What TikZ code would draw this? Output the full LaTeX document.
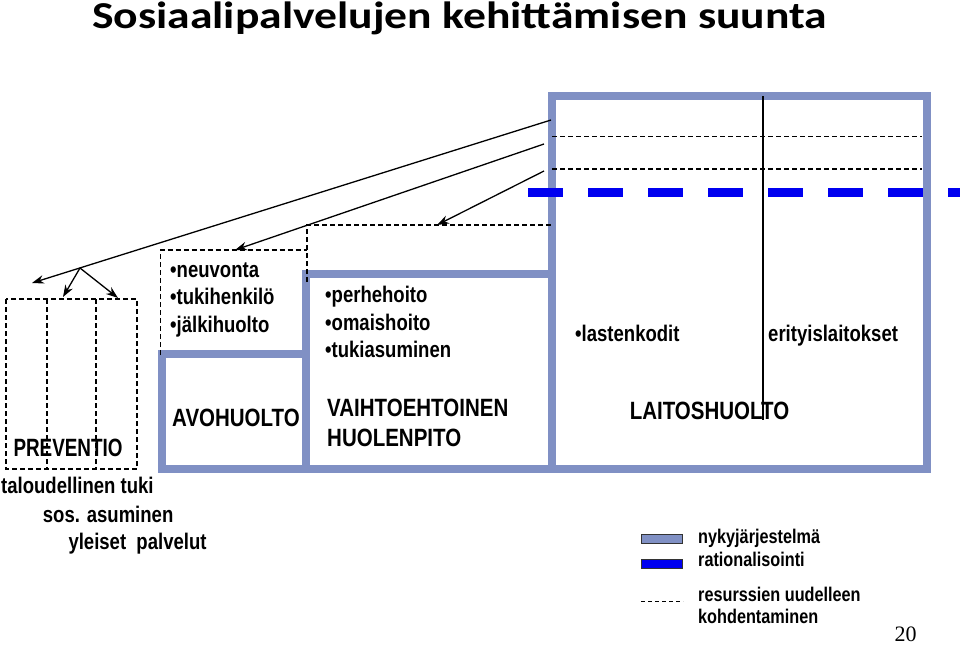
\documentclass[tikz,border=0pt]{standalone}
\usepackage{fontspec}
\usepackage{graphicx}
\setmainfont{Liberation Sans}[FakeStretch=0.82]
\newfontfamily\titlefont{Carlito}[FakeStretch=1.2]
\newfontfamily\numfont{Liberation Serif}
\usetikzlibrary{arrows.meta}
\definecolor{slate}{RGB}{128,144,196}
\definecolor{rblue}{RGB}{0,0,240}

\begin{document}
\begin{tikzpicture}[x=1pt,y=-1pt,>={Stealth[length=12pt,width=8.5pt]},
	slatebox/.style={draw=slate,line width=8pt},
	realloc/.style={draw,dash pattern=on 5pt off 3pt,line width=1.2pt},
	ratline/.style={draw=rblue,line width=8.5pt,dash pattern=on 35pt off 25pt},
	lbl/.style={font=\bfseries\fontsize{25}{30}\selectfont,inner sep=0pt,align=left},
	txt/.style={font=\bfseries\fontsize{22.6}{27.3}\selectfont,inner sep=0pt,align=left},
	legtext/.style={font=\bfseries\fontsize{19.8}{21.6}\selectfont,inner sep=0pt,align=left},
	swatch/.style={draw=black!80,line width=1pt,minimum width=41pt,minimum height=9pt,inner sep=0pt}
	]
	\useasboundingbox (0,0) rectangle (960,645);

	\node[font=\titlefont\bfseries\fontsize{38}{40}\selectfont,anchor=base west,inner sep=0pt] (title) at (92,28.3) {Sosiaalipalvelujen kehittämisen suunta};

	% staircase of the present system
	\draw[slatebox] (161.5,353.5) rectangle (306,469);
	\draw[slatebox] (306,273.5) rectangle (552,469);
	\draw[slatebox] (552,96) rectangle (926.5,469);

	% reallocation
	\draw[realloc] (6,299) rectangle (137,469);
	\draw[realloc] (47,299) -- (47,469);
	\draw[realloc] (96,299) -- (96,469);
	\draw[realloc] (160.7,355) -- (160.7,250) -- (307,250);
	\draw[realloc] (307,282) -- (307,225) -- (552,225);
	\draw[realloc] (552,136.7) -- (922,136.7);
	\draw[realloc] (552,169) -- (922,169);

	\draw[ratline] (528,192.7) -- (960,192.7);
	\draw[line width=1.3pt] (763,96) -- (763,420);

	\coordinate (s1) at (551,120);
	\coordinate (s2) at (544,144);
	\coordinate (s3) at (544,171);
	\coordinate (fork) at (80,268);
	\coordinate (t1) at (32,283);
	\coordinate (t2) at (63,297);
	\coordinate (t3) at (118,298);
	\coordinate (t4) at (235,250);
	\coordinate (t5) at (437,225);

	\draw[->,line width=1.3pt] (s1) -- (t1);
	\draw[->,line width=1.3pt] (fork) -- (t2);
	\draw[->,line width=1.3pt] (fork) -- (t3);
	\draw[->,line width=1.3pt] (s2) -- (t4);
	\draw[->,line width=1.3pt] (s3) -- (t5);

	\node[lbl,anchor=base] (prev) at (68,456.7) {\scalebox{0.92}[1]{PREVENTIO}};
	\node[lbl,anchor=base] (avo) at (236,426.7) {AVOHUOLTO};
	\node[lbl,anchor=base west] (vaiht) at (327,446.7) {VAIHTOEHTOINEN\\HUOLENPITO};
	\node[lbl,anchor=base] (laitos) at (709.5,419.3) {LAITOSHUOLTO};

	\node[txt,anchor=base west] (avolist) at (170,332) {\textbullet neuvonta\\\textbullet tukihenkilö\\\textbullet jälkihuolto};
	\node[txt,anchor=base west] (vaihtlist) at (325,357.3) {\textbullet perhehoito\\\textbullet omaishoito\\\textbullet tukiasuminen};
	\node[txt,anchor=base west] (lasten) at (575,341) {\textbullet lastenkodit};
	\node[txt,anchor=base west] (erit) at (768,341) {erityislaitokset};

	\node[txt,anchor=base west] (talous) at (1,493.3) {taloudellinen tuki};
	\node[txt,anchor=base west] (sosas) at (42.7,522.3) {sos. asuminen};
	\node[txt,anchor=base west] (yleis) at (68.3,549.3) {yleiset~~palvelut};

	% legend
	\node[swatch,fill=slate] (sw1) at (661.5,538.5) {};
	\node[swatch,fill=rblue] (sw2) at (661.5,563.5) {};
	\coordinate (d1) at (641,601);
	\coordinate (d2) at (683,601);
	\draw[dash pattern=on 4pt off 3pt,line width=0.9pt] (d1) -- (d2);
	\node[legtext,anchor=base west] (nyky) at (698,543) {nykyjärjestelmä};
	\node[legtext,anchor=base west] (rat) at (698,566.7) {rationalisointi};
	\node[legtext,anchor=base west] (res) at (698,623.3) {resurssien uudelleen\\kohdentaminen};

	\node[font=\numfont\fontsize{22}{22}\selectfont,anchor=base,inner sep=0pt] (page) at (905.5,641.7) {20};
\end{tikzpicture}
\end{document}
